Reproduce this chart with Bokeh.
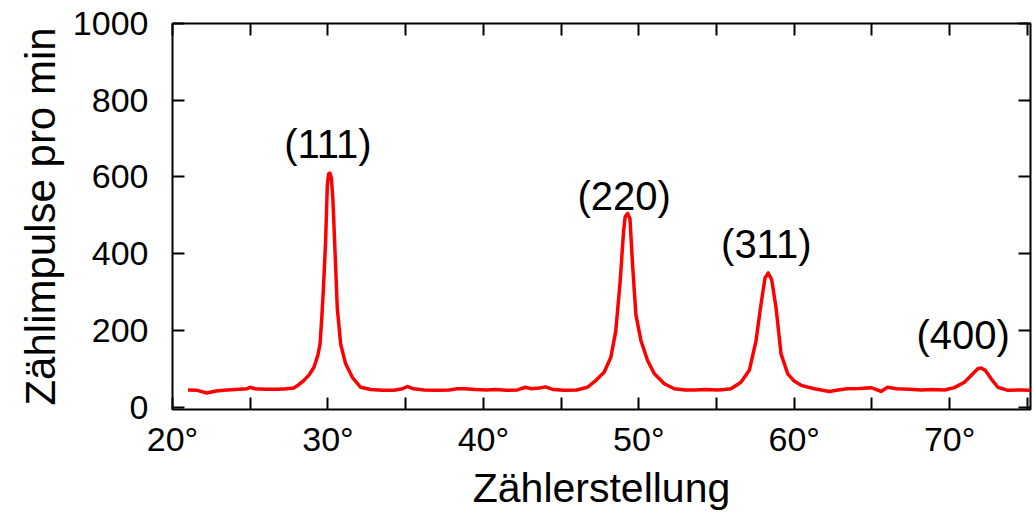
from bokeh.plotting import figure
from bokeh.models import (ColumnDataSource, FixedTicker, LinearAxis, PrintfTickFormatter,
                          Range1d)
from bokeh.core.properties import value
from bokeh.embed import file_html
from bokeh.resources import INLINE

# Diffractogram trace (Zählerstellung in degrees, Zählimpulse pro min)
angle = [21.0, 21.6, 22.2, 22.8, 23.5, 24.3, 24.8, 25.0, 25.3, 26.0, 26.8, 27.3, 27.8,
         28.1, 28.46, 28.8, 29.1, 29.35, 29.49, 29.6, 29.70, 29.85, 29.96, 30.04, 30.12,
         30.22, 30.32, 30.43, 30.6, 30.82, 31.14, 31.57, 32.1, 32.75, 33.5, 34.25, 34.8,
         35.1, 35.5, 36.2, 37.0, 37.8, 38.3, 38.8, 39.5, 40.2, 40.8, 41.5, 42.2, 42.7,
         43.1, 43.6, 44.0, 44.5, 45.2, 46.0, 46.7, 47.24, 47.77, 48.2, 48.52, 48.8, 49.02,
         49.12, 49.28, 49.43, 49.6, 49.81, 50.14, 50.57, 51.0, 51.64, 52.28, 53.0, 53.57,
         54.3, 55.07, 55.5, 55.93, 56.57, 57.11, 57.54, 57.86, 58.12, 58.33, 58.55, 58.83,
         59.15, 59.58, 60.0, 60.44, 61.3, 62.26, 62.8, 63.44, 64.2, 64.94, 65.3, 65.58,
         66.0, 66.6, 67.4, 68.17, 68.9, 69.67, 70.3, 70.95, 71.49, 71.81, 72.03, 72.29,
         72.67, 73.1, 73.75, 74.5, 75.2]
counts = [45, 44, 37, 42, 45, 47, 48, 52, 48, 47, 47, 48, 50,
          58, 70, 85, 104, 135, 164, 230, 302, 432, 578, 608, 610,
          598, 540, 432, 259, 164, 113, 78, 52, 46, 44, 44, 48,
          54, 48, 45, 44, 45, 48, 48, 46, 45, 46, 44, 45, 52,
          48, 50, 53, 46, 44, 45, 52, 70, 91, 130, 199, 328, 458,
          496, 505, 492, 371, 242, 173, 121, 87, 61, 48, 45, 45,
          46, 45, 46, 48, 65, 96, 173, 268, 337, 350, 332, 259,
          139, 87, 68, 57, 48, 41, 45, 48, 49, 51, 46, 41,
          52, 48, 47, 45, 46, 45, 51, 65, 87, 100, 102, 96,
          74, 52, 44, 45, 44]

# Peak labels (Miller indices)
peak_labels = ["(111)", "(220)", "(311)", "(400)"]
peak_x = [30.0, 49.06, 58.2, 70.87]
peak_y = [686, 550, 425, 187]

x_major = [20, 30, 40, 50, 60, 70]
x_minor = [25, 35, 45, 55, 65, 75]
y_ticks = [0, 200, 400, 600, 800, 1000]

FONT = "Liberation Sans"

p = figure(width=1032, height=513, output_backend="svg", toolbar_location=None,
           x_range=Range1d(20, 75.2), y_range=Range1d(-6, 1000),
           x_axis_label="Zählerstellung", y_axis_label="Zählimpulse pro min",
           min_border_left=172, min_border_top=23, min_border_right=2,
           min_border_bottom=100)
p.background_fill_color = "white"
p.border_fill_color = "white"
p.grid.visible = False
p.outline_line_color = "black"
p.outline_line_width = 2
p.outline_line_alpha = 1.0

p.line(angle, counts, line_color="#ff0000", line_width=3.5, line_join="round")

src = ColumnDataSource(dict(x=peak_x, y=peak_y, t=peak_labels))
p.text(x="x", y="y", text="t", source=src, text_font=value(FONT),
       text_font_size="40px", text_align="center", text_baseline="middle",
       text_color="black")

xticker = FixedTicker(ticks=x_major, minor_ticks=x_minor)
yticker = FixedTicker(ticks=y_ticks, minor_ticks=[])

def style_axis(ax):
    ax.axis_line_color = None
    ax.major_tick_in = 12
    ax.major_tick_out = 0
    ax.minor_tick_in = 12
    ax.minor_tick_out = 0
    ax.major_tick_line_width = 2
    ax.minor_tick_line_width = 2
    ax.major_tick_line_color = "black"
    ax.minor_tick_line_color = "black"
    ax.major_label_text_font = FONT
    ax.major_label_text_font_size = "34px"
    ax.major_label_text_color = "black"
    ax.axis_label_text_font = FONT
    ax.axis_label_text_font_size = "41px"
    ax.axis_label_text_font_style = "normal"
    ax.axis_label_text_color = "black"

xa = p.xaxis[0]
xa.ticker = xticker
xa.formatter = PrintfTickFormatter(format="%d°")
style_axis(xa)
xa.major_label_standoff = 10
xa.axis_label_standoff = 4

ya = p.yaxis[0]
ya.ticker = yticker
style_axis(ya)
ya.major_label_standoff = 24
ya.axis_label_standoff = 6
ya.axis_label_text_font_size = "42px"

for loc in ("right", "above"):
    ax = LinearAxis(ticker=xticker if loc == "above" else yticker)
    style_axis(ax)
    ax.major_label_text_font_size = "0px"
    ax.major_label_standoff = 0
    ax.major_label_text_color = None
    p.add_layout(ax, loc)

open("out.html", "w").write(file_html(p, INLINE))
